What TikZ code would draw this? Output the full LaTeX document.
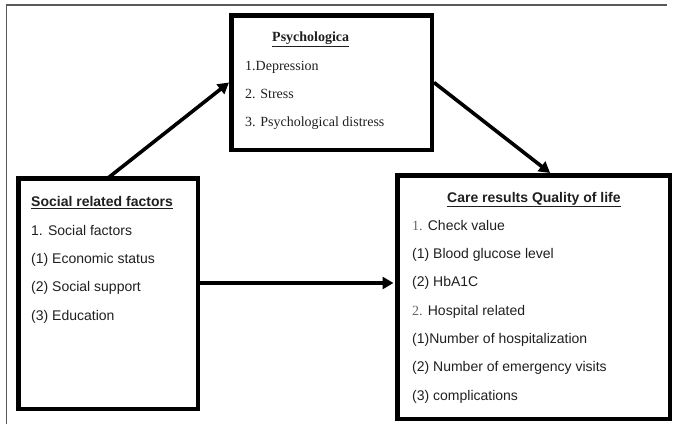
\documentclass[tikz,border=0pt]{standalone}
\usepackage{fontspec}
\setmainfont{Liberation Serif}
\newfontfamily\arialf{Liberation Sans}
\usetikzlibrary{arrows.meta,calc}
\begin{document}
\begin{tikzpicture}[x=1pt,y=-1pt,
  boxed/.style={draw=black,line width=4.5pt,inner sep=0pt,fill=none},
  arr/.style={line width=3.6pt,-{Triangle[length=11pt,width=12pt]}},
  ser/.style={anchor=base west,inner sep=0pt,font=\fontsize{14}{16}\selectfont,text=black!88},
  san/.style={anchor=base west,inner sep=0pt,font=\arialf\fontsize{14}{16}\selectfont,text=black!88},
  frameline/.style={draw=black!65,line width=1.2pt}]
\useasboundingbox (0,0) rectangle (673,424);
\draw[frameline] (6.5,424) -- (6.5,5) -- (667,5);
% boxes
\node[boxed,minimum width=200.5pt,minimum height=134.5pt] (psy) at (331.5,82.5) {};
\node[boxed,minimum width=179.5pt,minimum height=230.5pt] (soc) at (108,293.5) {};
\node[boxed,minimum width=272.5pt,minimum height=243.5pt] (care) at (533.5,297) {};
% psychological texts
\node[ser,font=\bfseries\fontsize{14}{16}\selectfont] (p0) at (272,41.7) {\underline{Psychologica}};
\node[ser] (p1) at (245,70) {1.Depression};
\node[ser] (p2) at (245,98.3) {2. Stress};
\node[ser] (p3) at (245,126.7) {3. Psychological distress};
% social texts
\node[san,font=\arialf\bfseries\fontsize{14}{16}\selectfont] (s0) at (31,206.5) {\underline{Social related factors}};
\node[san] (s1) at (31,235) {1. Social factors};
\node[san] (s2) at (31,263.3) {(1) Economic status};
\node[san] (s3) at (31,291.6) {(2) Social support};
\node[san] (s4) at (31,320) {(3) Education};
% care texts
\node[san,font=\arialf\bfseries\fontsize{14}{16}\selectfont] (c0) at (447,202.3) {\underline{Care results Quality of life}};
\node[san] (c1) at (412,230) {{\rmfamily\color{black!60}1.} Check value};
\node[san] (c2) at (412,258.3) {(1) Blood glucose level};
\node[san] (c3) at (412,286.6) {(2) HbA1C};
\node[san] (c4) at (412,315) {{\rmfamily\color{black!60}2.} Hospital related};
\node[san] (c5) at (412,343.3) {(1)Number of hospitalization};
\node[san] (c6) at (412,371.6) {(2) Number of emergency visits};
\node[san] (c7) at (412,400) {(3) complications};
% arrows
\draw[arr] ([yshift=-2pt]soc.north) -- (psy.west);
\draw[arr] (psy.east) -- ($(care.north west)!0.56!(care.north east)$);
\draw[arr] ([yshift=10.5pt]soc.east) coordinate (h) -- ([xshift=-1.5pt]h -| care.west);
\end{tikzpicture}
\end{document}
